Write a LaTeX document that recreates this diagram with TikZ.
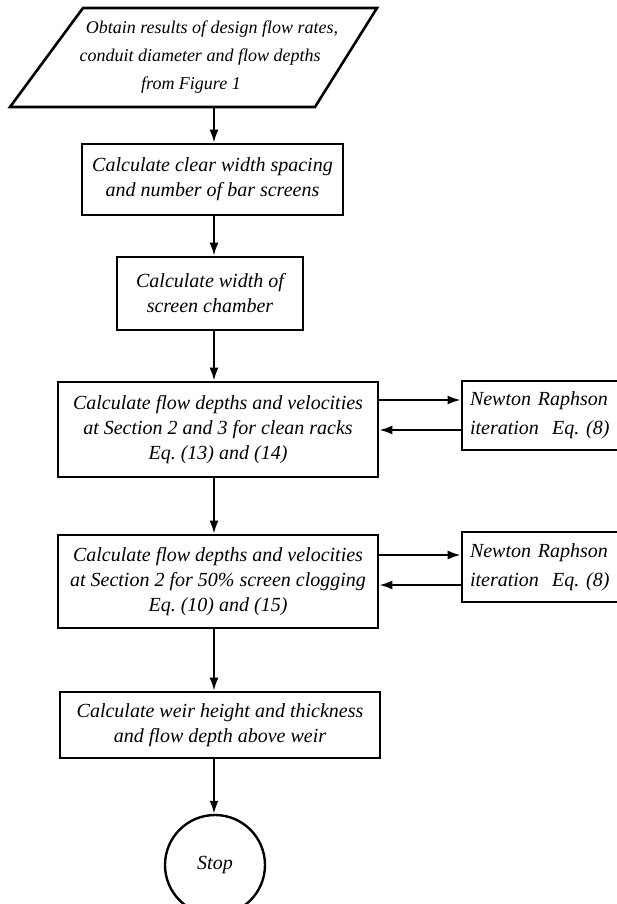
\documentclass[tikz,border=0pt]{standalone}
\usepackage{fontspec}
\setmainfont{Liberation Serif}
\usetikzlibrary{arrows.meta}
\begin{document}
\begin{tikzpicture}[x=1pt,y=-1pt,
  txt/.style={font=\fontsize{20}{25}\selectfont\itshape},
  box/.style={draw, line width=2.6pt, rectangle, inner sep=0pt, align=center, txt},
  nrbox/.style={draw, line width=2.6pt, rectangle, inner xsep=8pt, inner ysep=0pt,
    text width=152pt, align=left, minimum height=70pt,
    font=\fontsize{20}{29}\selectfont\itshape},
  endbox/.style={draw, circle, line width=2.4pt, minimum size=100pt, inner sep=0pt, txt},
  arr/.style={line width=2.2pt, -{Latex[length=13pt,width=9pt]}},
  outline/.style={draw, line width=2.6pt, line join=miter}
]
\useasboundingbox (0,0) rectangle (617,904);
\coordinate (ax) at (214,0);

% input parallelogram
\draw[outline] (83,8) -- (377,8) -- (315,107) -- (10,107) -- cycle;
\node[inner sep=0pt, minimum height=99pt, align=center,
  font=\fontsize{18}{28}\selectfont\itshape] (in) at (200,57.5)
  {\hspace*{24pt}Obtain results of design flow rates,\\
   conduit diameter and flow depths\\
   from Figure 1\hspace*{18pt}};

\node[box, minimum width=261pt, minimum height=71pt] (b2) at (212.5,179.5)
  {Calculate clear width spacing\\and number of bar screens};
\node[box, minimum width=186pt, minimum height=73pt] (b3) at (210,293.5)
  {Calculate width of\\screen chamber};
\node[box, minimum width=320pt, minimum height=95pt] (b4) at (218,429.5)
  {Calculate flow depths and velocities\\at Section 2 and 3 for clean racks\\Eq.\ (13) and (14)};
\node[box, minimum width=320pt, minimum height=93pt] (b5) at (218,581.5)
  {Calculate flow depths and velocities\\at Section 2 for 50\% screen clogging\\Eq.\ (10) and (15)};
\node[box, minimum width=320pt, minimum height=66pt] (b6) at (220,725)
  {Calculate weir height and thickness\\and flow depth above weir};
\node[endbox] (stop) at (215,865) {Stop};

\node[nrbox, minimum height=69pt] (n1) at (546,415.5) {Newton Raphson\\iteration\ \ Eq.\ (8)};
\node[nrbox] (n2) at (546,567) {Newton Raphson\\iteration\ \ Eq.\ (8)};

% main flow
\draw[arr] (in.south -| ax) -- (b2.north -| ax);
\draw[arr] (b2.south -| ax) -- (b3.north -| ax);
\draw[arr] (b3.south -| ax) -- (b4.north -| ax);
\draw[arr] (b4.south -| ax) -- (b5.north -| ax);
\draw[arr] (b5.south -| ax) -- (b6.north -| ax);
\draw[arr] (b6.south -| ax) -- (stop.north -| ax);

% iteration loops
\draw[arr] ([yshift=15.5pt]n1.west -| b4.east) -- ([yshift=15.5pt]n1.west);
\draw[arr] ([yshift=-14.5pt]n1.west) -- ([yshift=-14.5pt]n1.west -| b4.east);
\draw[arr] ([yshift=12pt]n2.west -| b5.east) -- ([yshift=12pt]n2.west);
\draw[arr] ([yshift=-18pt]n2.west) -- ([yshift=-18pt]n2.west -| b5.east);
\end{tikzpicture}
\end{document}
